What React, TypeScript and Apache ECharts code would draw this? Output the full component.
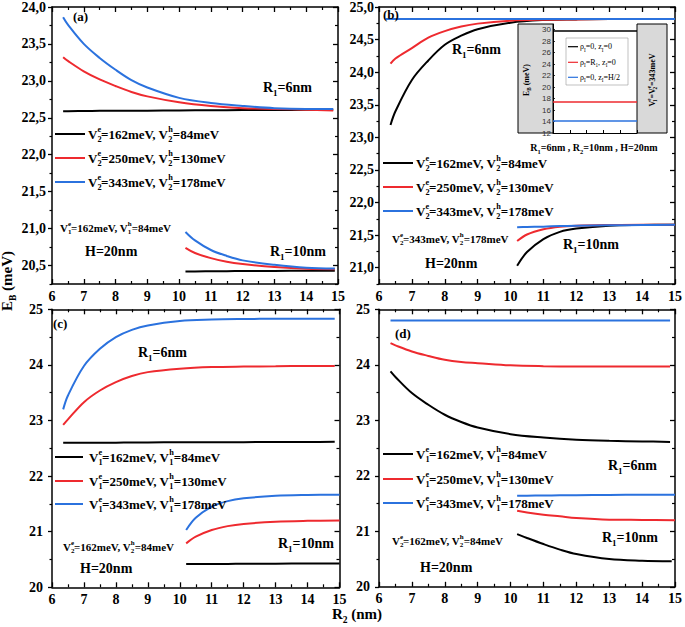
import React, { useEffect, useRef } from 'react';
import * as echarts from 'echarts';

const FONT = "'Liberation Serif', 'Times New Roman', serif";
const SANS = "'Liberation Sans', Arial, sans-serif";
const BLACK = '#000000';
const RED = '#ee2a2f';
const BLUE = '#2b72de';

// ---------------- data ----------------
const R2_RANGE = [6, 15];
const xTicks = [6, 7, 8, 9, 10, 11, 12, 13, 14, 15];
const aYTicks = [20.5, 21, 21.5, 22, 22.5, 23, 23.5, 24];
const bYTicks = [21, 21.5, 22, 22.5, 23, 23.5, 24, 24.5, 25];
const cdYTicks = [20, 21, 22, 23, 24, 25];
const insetYTicks = [12, 14, 16, 18, 20, 22, 24, 26, 28, 30];

const VE = [162, 250, 343];
const VH = [84, 130, 178];

const xR6 = [6.35, 6.5, 7, 7.5, 8, 8.5, 9, 10, 11, 12, 13, 14, 14.85];
const xR10 = [10.2, 10.5, 11, 11.5, 12, 13, 14, 14.9];
const xR10long = [10.2, 10.5, 11, 11.5, 12, 13, 14, 15];
const xFlatB = [6.2, 8, 10, 12, 15];

// (a)
const aR6Black = [22.59, 22.59, 22.592, 22.594, 22.595, 22.596, 22.597, 22.6, 22.602, 22.604, 22.606, 22.608, 22.61];
const aR6Red = [23.32, 23.27, 23.13, 23.02, 22.93, 22.85, 22.79, 22.71, 22.66, 22.63, 22.62, 22.61, 22.6];
const aR6Blue = [23.86, 23.76, 23.5, 23.31, 23.15, 23.01, 22.91, 22.77, 22.7, 22.66, 22.63, 22.62, 22.62];
const aR10Black = [20.42, 20.42, 20.422, 20.424, 20.425, 20.427, 20.429, 20.43];
const aR10Red = [20.74, 20.67, 20.6, 20.55, 20.52, 20.48, 20.455, 20.45];
const aR10Blue = [20.955, 20.84, 20.71, 20.63, 20.57, 20.51, 20.47, 20.46];

// (b)
const bR6Black = [23.19, 23.4, 23.88, 24.18, 24.42, 24.56, 24.66, 24.76, 24.8, 24.81, 24.815, 24.815, 24.815];
const bR6Red = [24.13, 24.21, 24.37, 24.53, 24.63, 24.7, 24.745, 24.79, 24.805, 24.81, 24.815, 24.815, 24.815];
const bR6Blue = [24.815, 24.815, 24.815, 24.815, 24.815];
const bR10Black = [21.03, 21.24, 21.44, 21.55, 21.6, 21.645, 21.655, 21.66];
const bR10Red = [21.41, 21.51, 21.59, 21.63, 21.645, 21.655, 21.66, 21.66];
const bR10Blue = [21.62, 21.625, 21.63, 21.64, 21.645, 21.65, 21.655, 21.66];

// (c)
const cR6Black = [22.6, 22.6, 22.6, 22.6, 22.6, 22.605, 22.605, 22.61, 22.61, 22.61, 22.615, 22.615, 22.62];
const cR6Red = [22.92, 23.02, 23.33, 23.54, 23.69, 23.8, 23.87, 23.93, 23.96, 23.97, 23.975, 23.98, 23.98];
const cR6Blue = [23.2, 23.45, 23.98, 24.29, 24.5, 24.63, 24.71, 24.79, 24.815, 24.825, 24.83, 24.83, 24.83];
const cR10Black = [20.42, 20.42, 20.42, 20.42, 20.425, 20.425, 20.43, 20.43];
const cR10Red = [20.79, 20.91, 21.03, 21.1, 21.14, 21.18, 21.195, 21.2];
const cR10Blue = [21.03, 21.25, 21.45, 21.55, 21.6, 21.645, 21.66, 21.665];

// (d)
const dR6Black = [23.88, 23.78, 23.49, 23.28, 23.1, 22.97, 22.87, 22.75, 22.69, 22.65, 22.63, 22.62, 22.61];
const dR6Red = [24.39, 24.35, 24.24, 24.16, 24.09, 24.05, 24.03, 23.99, 23.975, 23.97, 23.97, 23.97, 23.97];
const dR6Blue = [24.8, 24.8, 24.8, 24.8, 24.8, 24.8, 24.8, 24.8, 24.8, 24.8, 24.8, 24.8, 24.8];
const dR10Black = [20.95, 20.88, 20.77, 20.67, 20.59, 20.5, 20.47, 20.46];
const dR10Red = [21.37, 21.34, 21.3, 21.27, 21.24, 21.21, 21.205, 21.2];
const dR10Blue = [21.64, 21.642, 21.645, 21.648, 21.65, 21.655, 21.658, 21.66];

// inset of (b)
const insetX = [0, 5];
const insetLevels = [29.8, 17.4, 14.1];
const insetLabels = ['ρ_I=0, z_I=0', 'ρ_I=R_1, z_I=0', 'ρ_I=0, z_I=H/2'];

// ---------------- helpers ----------------
function markup(s: string): string {
  let out = '';
  let buf = '';
  const flush = () => {
    if (buf) {
      out += `{t|${buf}}`;
      buf = '';
    }
  };
  for (let i = 0; i < s.length; i++) {
    const c = s[i];
    if ((c === '_' || c === '^') && i + 1 < s.length) {
      flush();
      const ch = s[i + 1];
      const stacked = s[i + 2] === '_' || s[i + 2] === '^';
      const name = (c === '_' ? 'sb' : 'sp') + (stacked ? 'z' : '');
      out += `{${name}|${ch}}`;
      i++;
    } else buf += c;
  }
  flush();
  return out;
}

function rich(size: number, weight = 'bold', family = FONT) {
  const small = +(size * 0.64).toFixed(1);
  const lh = Math.round(size * 1.4);
  const base = { fontFamily: family, fontWeight: weight, fill: '#000', color: '#000' };
  return {
    t: { ...base, fontSize: size, lineHeight: lh },
    sb: { ...base, fontSize: small, lineHeight: small + 1, verticalAlign: 'bottom' },
    sbz: { ...base, fontSize: small, lineHeight: small + 1, verticalAlign: 'bottom', width: 0.01 },
    sp: { ...base, fontSize: small, lineHeight: small + 1, verticalAlign: 'top' },
    spz: { ...base, fontSize: small, lineHeight: small + 1, verticalAlign: 'top', width: 0.01 },
  };
}

function txt(s: string, x: number, y: number, size: number, opts: any = {}) {
  const align = opts.align || 'left';
  return {
    type: 'text',
    x,
    y,
    rotation: opts.rotation || 0,
    z: 100,
    style: {
      text: markup(s),
      rich: rich(size, opts.weight || 'bold', opts.family || FONT),
      align,
      textAlign: align,
      verticalAlign: 'middle',
      textVerticalAlign: 'middle',
      fill: '#000',
    },
  };
}

function seg(x1: number, y1: number, x2: number, y2: number, color: string, w = 2) {
  return { type: 'line', z: 100, shape: { x1, y1, x2, y2 }, style: { stroke: color, lineWidth: w } };
}

function minorsOf(ticks: number[], min: number) {
  const step = ticks[1] - ticks[0];
  const out: number[] = [];
  const first = ticks[0] - step / 2;
  if (first >= min - 1e-9) out.push(first);
  for (let i = 0; i < ticks.length - 1; i++) out.push((ticks[i] + ticks[i + 1]) / 2);
  return out;
}

const COLORS = [BLACK, RED, BLUE];

const panels = [
  {
    grid: { left: 52, top: 4.5, width: 286, height: 279.5 },
    yMin: 20.25, yMax: 24, yTicks: aYTicks, comma: true, margin: 6,
    lines: [
      [xR6, aR6Black], [xR6, aR6Red], [xR6, aR6Blue],
      [xR10, aR10Black], [xR10, aR10Red], [xR10, aR10Blue],
    ],
  },
  {
    grid: { left: 379, top: 4.7, width: 299, height: 279.3 },
    yMin: 20.75, yMax: 25, yTicks: bYTicks, comma: true, margin: 5,
    lines: [
      [xR6, bR6Black], [xR6, bR6Red], [xFlatB, bR6Blue],
      [xR10long, bR10Black], [xR10long, bR10Red], [xR10long, bR10Blue],
    ],
  },
  {
    grid: { left: 52, top: 309.3, width: 287.5, height: 278 },
    yMin: 20, yMax: 25, yTicks: cdYTicks, comma: false, margin: 9,
    lines: [
      [xR6, cR6Black], [xR6, cR6Red], [xR6, cR6Blue],
      [xR10long, cR10Black], [xR10long, cR10Red], [xR10long, cR10Blue],
    ],
  },
  {
    grid: { left: 379, top: 309.3, width: 299, height: 277.5 },
    yMin: 20, yMax: 25, yTicks: cdYTicks, comma: false, margin: 9,
    lines: [
      [xR6, dR6Black], [xR6, dR6Red], [xR6, dR6Blue],
      [xR10, dR10Black], [xR10long, dR10Red], [xR10long, dR10Blue],
    ],
  },
];

const labelFont = { fontFamily: FONT, fontWeight: 'bold', fontSize: 14, color: '#000' };
const axisLineStyle = { color: '#000', width: 1.5 };

function buildOption() {
  const grid: any[] = [];
  const xAxis: any[] = [];
  const yAxis: any[] = [];
  const series: any[] = [];

  panels.forEach((p, k) => {
    grid.push({ ...p.grid });
    const xi = xAxis.length;
    const yi = yAxis.length;
    const xMin = minorsOf(xTicks, R2_RANGE[0]);
    const xc = {
      gridIndex: k, type: 'value', min: R2_RANGE[0], max: R2_RANGE[1],
      interval: (xTicks[1] - xTicks[0]) / 2, splitLine: { show: false },
    };
    xAxis.push({
      ...xc, position: 'bottom',
      axisLine: { show: true, onZero: false, lineStyle: axisLineStyle },
      axisTick: { show: true, inside: true, length: 5, customValues: xTicks, lineStyle: { color: '#000', width: 1.3 } },
      axisLabel: {
        show: true, customValues: xTicks, margin: 5, ...labelFont,
        formatter: (v: number) => (xTicks.includes(v) ? String(v) : ''),
      },
    });
    xAxis.push({
      ...xc, position: 'bottom',
      axisLine: { show: false, onZero: false },
      axisTick: { show: true, inside: true, length: 3, customValues: xMin, lineStyle: { color: '#000', width: 1.2 } },
      axisLabel: { show: false },
    });
    xAxis.push({
      ...xc, position: 'top',
      axisLine: { show: true, onZero: false, lineStyle: axisLineStyle },
      axisTick: { show: true, inside: true, length: 5, customValues: xTicks, lineStyle: { color: '#000', width: 1.3 } },
      axisLabel: { show: false },
    });
    xAxis.push({
      ...xc, position: 'top',
      axisLine: { show: false, onZero: false },
      axisTick: { show: true, inside: true, length: 3, customValues: xMin, lineStyle: { color: '#000', width: 1.2 } },
      axisLabel: { show: false },
    });

    const yStep = (p.yTicks[1] - p.yTicks[0]) / 2;
    const yMinors = minorsOf(p.yTicks, p.yMin);
    const yc = {
      gridIndex: k, type: 'value', min: p.yMin, max: p.yMax, interval: yStep,
      splitLine: { show: false },
    };
    const fmt = (v: number) => {
      const hit = p.yTicks.some((t) => Math.abs(t - v) < 1e-6);
      if (!hit) return '';
      return p.comma ? v.toFixed(1).replace('.', ',') : String(Math.round(v));
    };
    yAxis.push({
      ...yc, position: 'left',
      axisLine: { show: true, onZero: false, lineStyle: axisLineStyle },
      axisTick: { show: true, inside: false, length: 4, customValues: p.yTicks, lineStyle: { color: '#000', width: 1.3 } },
      axisLabel: { show: true, customValues: p.yTicks, margin: p.margin, ...labelFont, formatter: fmt },
    });
    yAxis.push({
      ...yc, position: 'left',
      axisLine: { show: false, onZero: false },
      axisTick: { show: true, inside: false, length: 2.5, customValues: yMinors, lineStyle: { color: '#000', width: 1.2 } },
      axisLabel: { show: false },
    });
    yAxis.push({
      ...yc, position: 'right',
      axisLine: { show: true, onZero: false, lineStyle: axisLineStyle },
      axisTick: { show: true, inside: true, length: 5, customValues: p.yTicks, lineStyle: { color: '#000', width: 1.3 } },
      axisLabel: { show: false },
    });
    yAxis.push({
      ...yc, position: 'right',
      axisLine: { show: false, onZero: false },
      axisTick: { show: true, inside: true, length: 3, customValues: yMinors, lineStyle: { color: '#000', width: 1.2 } },
      axisLabel: { show: false },
    });

    p.lines.forEach(([xs, ys], j) => {
      series.push({
        type: 'line',
        xAxisIndex: xi,
        yAxisIndex: yi,
        data: (xs as number[]).map((x, i) => [x, (ys as number[])[i]]),
        showSymbol: false,
        symbol: 'none',
        smooth: 0.35,
        lineStyle: { color: COLORS[j % 3], width: 2 },
        itemStyle: { color: COLORS[j % 3] },
        z: 3 + (j % 3),
      });
    });
  });

  // ---------- inset (b) ----------
  const gi = grid.length;
  grid.push({ left: 553, top: 24, width: 84, height: 109 });
  const ixi = xAxis.length;
  xAxis.push({
    gridIndex: gi, type: 'value', min: insetX[0], max: insetX[1], interval: 1,
    position: 'bottom', splitLine: { show: false },
    axisLine: { show: true, onZero: false, lineStyle: { color: '#000', width: 1 } },
    axisTick: { show: true, inside: true, length: 3, lineStyle: { color: '#000', width: 1 } },
    axisLabel: { show: false },
  });
  const iyi = yAxis.length;
  yAxis.push({
    gridIndex: gi, type: 'value', min: 12, max: 31, interval: 1, position: 'left',
    splitLine: { show: false },
    axisLine: { show: true, onZero: false, lineStyle: { color: '#000', width: 1 } },
    axisTick: { show: true, inside: true, length: 2, customValues: insetYTicks, lineStyle: { color: '#000', width: 0.8 } },
    axisLabel: {
      show: true, customValues: insetYTicks, margin: 2, fontFamily: SANS, fontSize: 8, color: '#333',
      formatter: (v: number) => (insetYTicks.includes(v) ? String(v) : ''),
    },
  });
  insetLevels.forEach((lv, j) => {
    series.push({
      type: 'line', xAxisIndex: ixi, yAxisIndex: iyi,
      data: insetX.map((x) => [x, lv]),
      showSymbol: false, symbol: 'none',
      lineStyle: { color: COLORS[j], width: 1.5 },
      z: 3,
    });
  });

  // ---------- annotations ----------
  const g: any[] = [];
  const legendDefs = [
    { lx: 55, ly: [134, 158, 182], lw: 30, tx: 88, idx: '2' },
    { lx: 383, ly: [163, 187, 211], lw: 30, tx: 416, idx: '2' },
    { lx: 55, ly: [457, 481, 504], lw: 28, tx: 89, idx: '1' },
    { lx: 383, ly: [454, 479, 503], lw: 30, tx: 416, idx: '1' },
  ];
  legendDefs.forEach((L) => {
    L.ly.forEach((y, j) => {
      g.push(seg(L.lx, y, L.lx + L.lw, y, COLORS[j], 2));
      g.push(txt(`V_${L.idx}^e=${VE[j]}meV, V_${L.idx}^h=${VH[j]}meV`, L.tx, y, 13));
    });
  });
  g.push(txt('(a)', 73, 16, 13));
  g.push(txt('R_1=6nm', 263, 87, 14));
  g.push(txt(`V_1^e=${VE[0]}meV, V_1^h=${VH[0]}meV`, 60, 228, 11));
  g.push(txt('H=20nm', 85, 251, 14));
  g.push(txt('R_1=10nm', 270, 251, 14));

  g.push(txt('(b)', 383, 14, 13));
  g.push(txt('R_1=6nm', 452, 49, 14));
  g.push(txt(`V_2^e=${VE[2]}meV, V_2^h=${VH[2]}meV`, 392, 239, 11));
  g.push(txt('H=20nm', 425, 263, 14));
  g.push(txt('R_1=10nm', 563, 244, 14));

  g.push(txt('(c)', 53, 323, 13));
  g.push(txt('R_1=6nm', 138, 352, 14));
  g.push(txt(`V_2^e=${VE[0]}meV, V_2^h=${VH[0]}meV`, 63, 547, 11));
  g.push(txt('H=20nm', 80, 568, 14));
  g.push(txt('R_1=10nm', 278, 543, 14));

  g.push(txt('(d)', 395, 333, 13));
  g.push(txt('R_1=6nm', 608, 465, 14));
  g.push(txt(`V_2^e=${VE[0]}meV, V_2^h=${VH[0]}meV`, 392, 541, 11));
  g.push(txt('R_1=10nm', 602, 537, 14));
  g.push(txt('H=20nm', 420, 567, 14));

  // inset decorations
  g.push({ type: 'rect', z: -1, shape: { x: 518, y: 24, width: 35, height: 109 }, style: { fill: '#d9d9d9', stroke: '#000', lineWidth: 1 } });
  g.push({ type: 'rect', z: -1, shape: { x: 637, y: 24, width: 30, height: 109 }, style: { fill: '#d9d9d9', stroke: '#000', lineWidth: 1 } });
  g.push({ type: 'rect', z: 90, shape: { x: 566, y: 38, width: 62, height: 47 }, style: { fill: 'none', stroke: '#999', lineWidth: 0.6 } });
  [46.7, 62.3, 77.3].forEach((y, j) => {
    g.push(seg(568, y, 578, y, COLORS[j], 1.2));
    g.push(txt(insetLabels[j], 580, y, 8, { weight: 'normal' }));
  });
  g.push(txt('E_B (meV)', 526, 80, 8, { rotation: Math.PI / 2, align: 'center' }));
  g.push(txt(`V_1^e=V_2^e=${VE[2]}meV`, 652, 80, 8, { rotation: Math.PI / 2, align: 'center' }));
  g.push(txt('R_1=6nm , R_2=10nm , H=20nm', 594, 147, 10, { align: 'center' }));

  // axis titles
  g.push(txt('E_B (meV)', 7, 281, 15, { rotation: Math.PI / 2, align: 'center' }));
  g.push(txt('R_2 (nm)', 357, 614, 15, { align: 'center' }));

  return {
    animation: false,
    backgroundColor: '#ffffff',
    grid,
    xAxis,
    yAxis,
    series,
    graphic: { elements: g },
  };
}

export default function App() {
  const ref = useRef<HTMLDivElement>(null);
  useEffect(() => {
    if (!ref.current) return;
    const chart = echarts.init(ref.current, undefined, { renderer: 'svg' });
    chart.setOption(buildOption() as any);
    return () => chart.dispose();
  }, []);
  return (
    <div
      ref={ref}
      style={{ position: 'absolute', left: 0, top: 0, width: 685, height: 627, background: '#fff' }}
    />
  );
}
